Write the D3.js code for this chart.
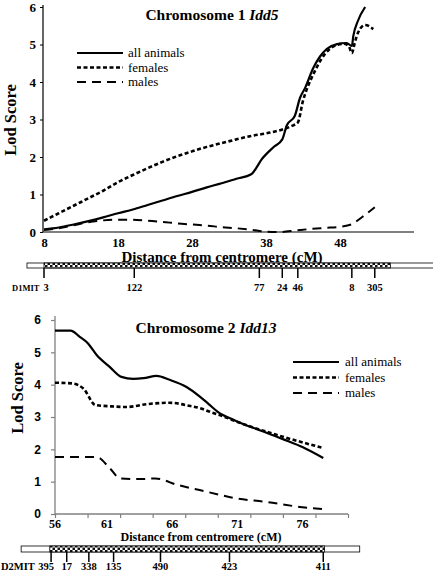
<!DOCTYPE html>
<html><head><meta charset="utf-8">
<script src="https://cdn.jsdelivr.net/npm/d3@7"></script>
<style>body{margin:0;background:#fff}svg{display:block}</style>
</head><body>
<script>
// ---------- Chromosome 1 Idd5 ----------
const c1Cm      = [8,10,12,14,16,18,20,22,24,26,28,30,32,34,36,37.5,39,40.2,40.8,41.9,42.6,43.3,44.4,45.3,46.2,47.6,48.9,49.6,49.8,50.4,51.4];
const c1All     = [0.07,0.12,0.2,0.29,0.39,0.5,0.6,0.72,0.84,0.96,1.07,1.19,1.3,1.42,1.54,1.96,2.26,2.47,2.84,3.1,3.58,3.85,4.38,4.68,4.88,5.01,5.04,4.96,5.23,5.62,6.0];
const c1FemCm   = [8,10,12,14,16,18,20,22,24,26,28,30,32,34,36,38,40,41.5,42.3,43,43.6,44.5,45.5,46.5,47.5,48.5,49.2,49.6,50,50.4,51.4,52.5];
const c1Fem     = [0.3,0.5,0.7,0.9,1.1,1.33,1.52,1.7,1.87,2.02,2.15,2.27,2.37,2.47,2.56,2.63,2.72,2.83,2.92,3.5,3.85,4.25,4.62,4.86,4.98,5.02,4.95,4.77,5.05,5.3,5.52,5.41];
const c1MaleCm  = [8,10,12,14,16,18,20,22,24,26,28,30,32,34,36,38,40,42,44,46,48,49.5,51,52.7];
const c1Male    = [0.05,0.1,0.18,0.26,0.31,0.33,0.33,0.3,0.27,0.23,0.2,0.17,0.13,0.1,0.06,0.01,0.0,0.04,0.08,0.11,0.14,0.2,0.4,0.66];
const c1XTicks  = [8,18,28,38,48];
const c1YTicks  = [0,1,2,3,4,5,6];
const c1Markers = ["3","122","77","24","46","8","305"];
const c1MarkCm  = [8,20.2,37.1,40.2,42.3,49.6,52.7];
const c1Bar     = [5.7,60.8];   // whole chromosome bar (cM)
const c1Checker = [8,54.8];     // checkered segment (cM)

// ---------- Chromosome 2 Idd13 ----------
const c2Cm      = [56,57.2,57.9,58.5,59.2,60.2,61.1,62,62.8,63.8,64.8,66.1,67.1,67.8,68.5,69.9,72,73.6,75,76.6];
const c2All     = [5.67,5.67,5.48,5.29,4.92,4.55,4.24,4.18,4.2,4.27,4.15,3.93,3.64,3.4,3.16,2.88,2.55,2.3,2.07,1.73];
const c2FemCm   = [56,57.3,58.2,59.1,60.3,61.5,63.1,64.8,66.4,67.1,67.9,68.7,70.4,73,76.6];
const c2Fem     = [4.06,4.04,3.87,3.37,3.33,3.31,3.4,3.44,3.34,3.28,3.16,3.05,2.79,2.45,2.04];
const c2MaleCm  = [56,59.2,60.2,61,62.5,63.7,65.4,67.1,68.7,69.7,72.3,74.8,76.6];
const c2Male    = [1.76,1.76,1.42,1.1,1.08,1.1,0.9,0.74,0.59,0.5,0.37,0.22,0.15];
const c2XTickMarks = [56,58.5,61,63.5,66,68.5,71,73.5,76,78.5];
const c2XLabels = ["56","61","66","71","76"];
const c2XLabelAt= [56,60,65,70,75];
const c2YTicks  = [0,1,2,3,4,5,6];
const c2Markers = ["395","17","338","135","490","423","411"];
const c2MarkCm  = [55.7,56.9,58.6,60.5,64.1,69.4,76.6];
const c2Bar     = [53.4,79.4];
const c2Checker = [55.6,76.7];

const legendNames = ["all animals","females","males"];

const W=433,H=572;
const svg=d3.select("body").append("svg").attr("width",W).attr("height",H);
const SERIF="'Liberation Serif','Times New Roman',serif";
const SANS="'Liberation Sans',Arial,sans-serif";

const defs=svg.append("defs");
const pat=defs.append("pattern").attr("id","chk").attr("patternUnits","userSpaceOnUse")
  .attr("width",5).attr("height",5);
pat.append("rect").attr("width",5).attr("height",5).attr("fill","#fff");
pat.append("rect").attr("x",0).attr("y",0).attr("width",2.5).attr("height",2.5).attr("fill","#111");
pat.append("rect").attr("x",2.5).attr("y",2.5).attr("width",2.5).attr("height",2.5).attr("fill","#111");

const styles=[
  {w:2.2,dash:null},
  {w:2.6,dash:"4,2.5"},
  {w:2.0,dash:"9,6"}
];

function zip(a,b){return a.map((v,i)=>[v,b[i]]);}

// ===== TOP CHART =====
const xT=d3.scaleLinear().domain([8,58]).range([44,414]);
const yT=d3.scaleLinear().domain([0,6]).range([232,7]);

const gT=svg.append("g");
const axT=gT.append("g").attr("transform","translate(43,0)")
  .call(d3.axisLeft(yT).tickValues(c1YTicks).tickSize(3).tickPadding(4).tickFormat(d3.format("d")));
axT.select(".domain").attr("d","M-0,5V232").attr("stroke","#000").attr("stroke-width",1.2);
axT.selectAll("text").attr("font-family",SERIF).attr("font-weight","bold").attr("font-size",13).attr("fill","#000");
axT.selectAll("line").attr("stroke","#000");

const axTx=gT.append("g").attr("transform","translate(0,232)")
  .call(d3.axisBottom(xT).tickValues(c1XTicks).tickSize(0).tickPadding(6).tickFormat(d3.format("d")));
axTx.select(".domain").attr("stroke","#000").attr("stroke-width",1.2).attr("d","M43,0H414");
axTx.selectAll("text").attr("font-family",SERIF).attr("font-weight","bold").attr("font-size",12.5).attr("fill","#000");

const c1Series=[zip(c1Cm,c1All),zip(c1FemCm,c1Fem),zip(c1MaleCm,c1Male)];
const lineT=d3.line().x(d=>xT(d[0])).y(d=>yT(d[1])).curve(d3.curveMonotoneX);
c1Series.forEach((s,i)=>{
  gT.append("path").datum(s).attr("d",lineT).attr("fill","none").attr("stroke","#000")
    .attr("stroke-width",styles[i].w).attr("stroke-dasharray",styles[i].dash);
});

// title
const t1=gT.append("text").attr("x",212).attr("y",20).attr("text-anchor","middle")
  .attr("font-family",SERIF).attr("font-weight","bold").attr("font-size",15.5);
t1.append("tspan").text("Chromosome 1 ");
t1.append("tspan").attr("font-style","italic").text("Idd5");

gT.append("text").attr("transform","translate(16,120) rotate(-90)").attr("text-anchor","middle")
  .attr("font-family",SERIF).attr("font-weight","bold").attr("font-size",16.5).text("Lod Score");
gT.append("text").attr("x",222).attr("y",262).attr("text-anchor","middle")
  .attr("font-family",SERIF).attr("font-weight","bold").attr("font-size",15).text("Distance from centromere (cM)");

// legend
legendNames.forEach((n,i)=>{
  const y=53+i*14.5;
  gT.append("line").attr("x1",77).attr("x2",123).attr("y1",y).attr("y2",y).attr("stroke","#000")
    .attr("stroke-width",styles[i].w).attr("stroke-dasharray",styles[i].dash);
  gT.append("text").attr("x",128).attr("y",y+4).attr("font-family",SERIF).attr("font-size",13).text(n);
});

// chromosome bar
function chromBar(g,x,bar,chk,y0,h,marks,markCm,name,labelY,nameX,nameSize,firstShift){
  g.append("rect").attr("x",x(bar[0])).attr("y",y0).attr("width",x(bar[1])-x(bar[0])).attr("height",h)
    .attr("fill","#fff").attr("stroke","#000").attr("stroke-width",0.8);
  g.append("rect").attr("x",x(chk[0])).attr("y",y0).attr("width",x(chk[1])-x(chk[0])).attr("height",h)
    .attr("fill","url(#chk)").attr("stroke","#000").attr("stroke-width",0.8);
  markCm.forEach((c,i)=>{
    g.append("line").attr("x1",x(c)).attr("x2",x(c)).attr("y1",y0+h).attr("y2",y0+h+10)
      .attr("stroke","#000").attr("stroke-width",1.5);
    g.append("text").attr("x",x(c)+(i===0?firstShift:0)).attr("y",labelY).attr("text-anchor","middle")
      .attr("font-family",SERIF).attr("font-weight","bold").attr("font-size",10.5).text(marks[i]);
  });
  g.append("text").attr("x",nameX).attr("y",labelY).attr("font-family",SERIF).attr("font-weight","bold")
    .attr("font-size",nameSize).text(name);
}
chromBar(gT,xT,c1Bar,c1Checker,263,5,c1Markers,c1MarkCm,"D1MIT",291,12,8.5,2);

// ===== BOTTOM CHART =====
const xB=d3.scaleLinear().domain([56,78.5]).range([55,348]);
const yB=d3.scaleLinear().domain([0,6]).range([514,320]);
const gB=svg.append("g");
const GREY="#808080";

const axB=gB.append("g").attr("transform","translate(55,0)")
  .call(d3.axisLeft(yB).tickValues(c2YTicks).tickSize(4).tickPadding(10).tickFormat(d3.format("d")));
axB.select(".domain").attr("d","M0,316V514").attr("stroke",GREY).attr("stroke-width",1.3);
axB.selectAll("line").attr("stroke",GREY).attr("stroke-width",1.2);
axB.selectAll("text").attr("font-family",SANS).attr("font-weight","bold").attr("font-size",12).attr("fill","#000");

const axBx=gB.append("g").attr("transform","translate(0,514)")
  .call(d3.axisBottom(xB).tickValues(c2XTickMarks).tickSize(4).tickFormat(""));
axBx.select(".domain").attr("stroke",GREY).attr("stroke-width",1.3).attr("d","M55,0H348");
axBx.selectAll("line").attr("stroke",GREY).attr("stroke-width",1.2);
c2XLabels.forEach((l,i)=>{
  gB.append("text").attr("x",xB(c2XLabelAt[i])).attr("y",528).attr("text-anchor","middle")
    .attr("font-family",SERIF).attr("font-weight","bold").attr("font-size",12).text(l);
});

const c2Series=[zip(c2Cm,c2All),zip(c2FemCm,c2Fem),zip(c2MaleCm,c2Male)];
const lineB=d3.line().x(d=>xB(d[0])).y(d=>yB(d[1])).curve(d3.curveMonotoneX);
c2Series.forEach((s,i)=>{
  gB.append("path").datum(s).attr("d",lineB).attr("fill","none").attr("stroke","#000")
    .attr("stroke-width",styles[i].w).attr("stroke-dasharray",styles[i].dash);
});

const t2=gB.append("text").attr("x",206).attr("y",333).attr("text-anchor","middle")
  .attr("font-family",SERIF).attr("font-weight","bold").attr("font-size",15.5);
t2.append("tspan").text("Chromosome 2 ");
t2.append("tspan").attr("font-style","italic").text("Idd13");

gB.append("text").attr("transform","translate(23,398) rotate(-90)").attr("text-anchor","middle")
  .attr("font-family",SERIF).attr("font-weight","bold").attr("font-size",16.5).text("Lod Score");
gB.append("text").attr("x",201).attr("y",541).attr("text-anchor","middle")
  .attr("font-family",SERIF).attr("font-weight","bold").attr("font-size",12).text("Distance from centromere (cM)");

legendNames.forEach((n,i)=>{
  const y=362+i*15.5;
  gB.append("line").attr("x1",293).attr("x2",339).attr("y1",y).attr("y2",y).attr("stroke","#000")
    .attr("stroke-width",styles[i].w).attr("stroke-dasharray",styles[i].dash);
  gB.append("text").attr("x",345).attr("y",y+4).attr("font-family",SERIF).attr("font-size",13).text(n);
});

chromBar(gB,xB,c2Bar,c2Checker,546,6,c2Markers,c2MarkCm,"D2MIT",570,1,10.5,-5);
</script>
</body></html>
